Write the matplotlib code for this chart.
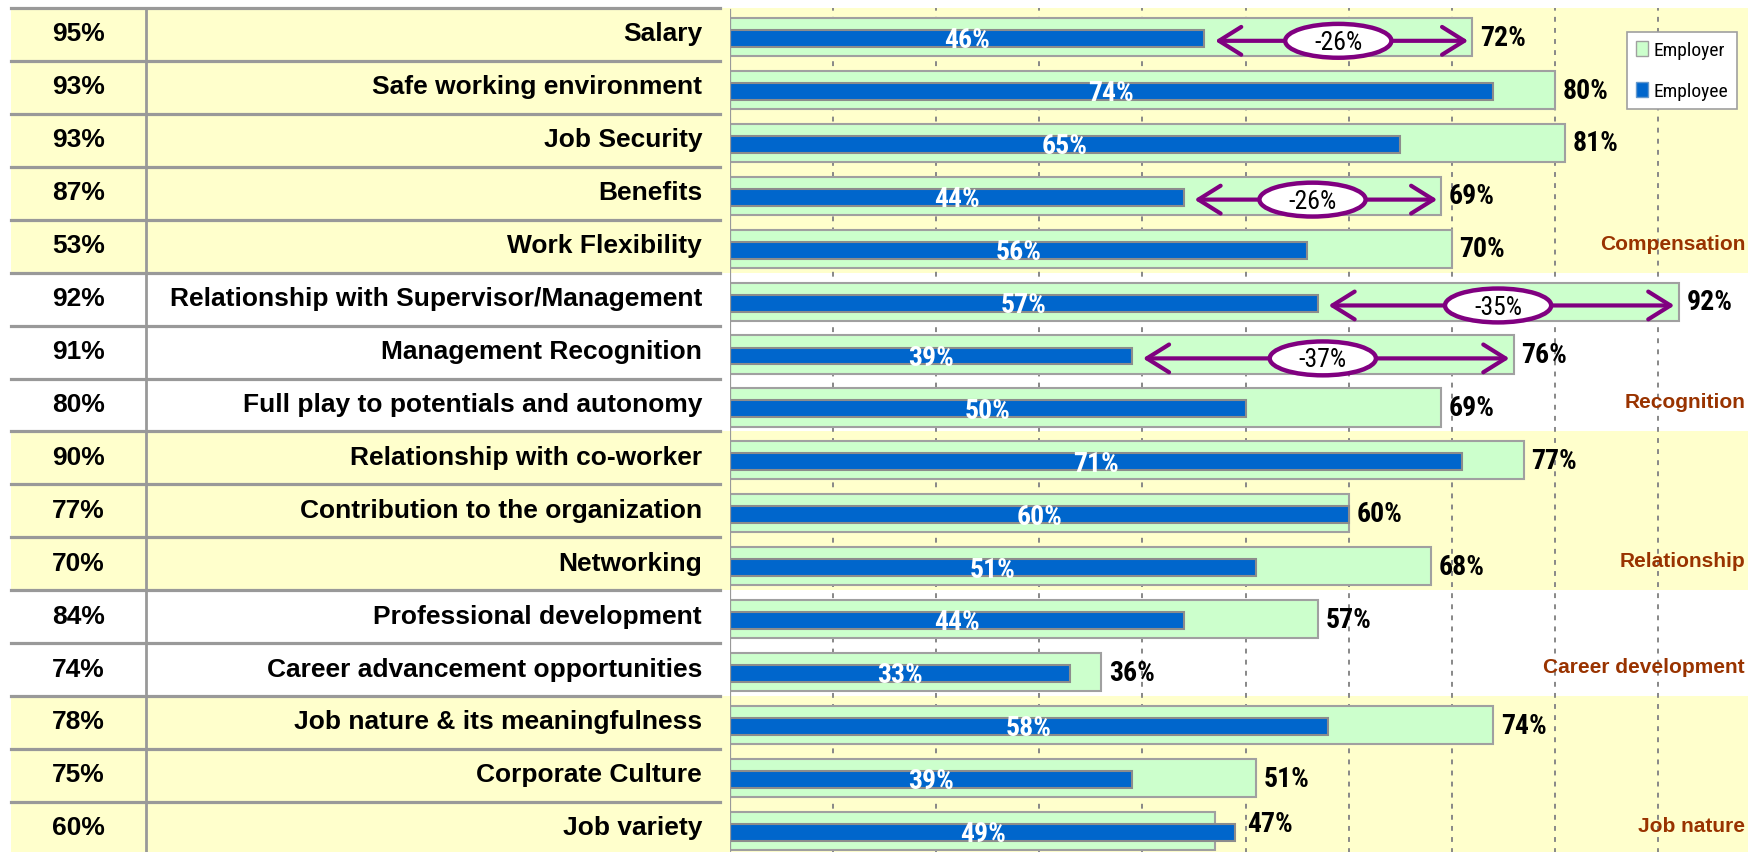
import matplotlib
matplotlib.use("Agg")
import matplotlib.pyplot as plt
import matplotlib.font_manager as fm
from matplotlib.patches import Ellipse, Patch

# --- data ---
factors = ["Salary", "Safe working environment", "Job Security", "Benefits",
           "Work Flexibility", "Relationship with Supervisor/Management",
           "Management Recognition", "Full play to potentials and autonomy",
           "Relationship with co-worker", "Contribution to the organization",
           "Networking", "Professional development",
           "Career advancement opportunities", "Job nature & its meaningfulness",
           "Corporate Culture", "Job variety"]
importance = [95, 93, 93, 87, 53, 92, 91, 80, 90, 77, 70, 84, 74, 78, 75, 60]
employer = [72, 80, 81, 69, 70, 92, 76, 69, 77, 60, 68, 57, 36, 74, 51, 47]
employee = [46, 74, 65, 44, 56, 57, 39, 50, 71, 60, 51, 44, 33, 58, 39, 49]
group_names = ["Compensation", "Recognition", "Relationship",
               "Career development", "Job nature"]
group_ends = [5, 8, 11, 13, 16]
gap_rows = [0, 3, 5, 6]
gap_labels = ["-26%", "-26%", "-35%", "-37%"]

# narrow face for the chart labels (Arial Narrow look), first one that has a bold
bold_names = {f.name for f in fm.fontManager.ttflist if f.weight in (700, "bold")}
narrow = "Liberation Sans"
for cand in ["Liberation Sans Narrow", "Arial Narrow", "Roboto Condensed",
             "PT Sans Narrow", "Archivo Narrow", "Fira Sans Condensed",
             "IBM Plex Sans Condensed"]:
    if cand in bold_names:
        narrow = cand
        break
is_narrow = narrow != "Liberation Sans"
lab_size = 20 if is_narrow else 16.5
leg_size = 14 if is_narrow else 11.5
gap_size = 18.5 if is_narrow else 15

YELLOW = "#FFFFCC"
GRID = "#999999"
PURPLE = "#800080"

W, H = 1748, 853
fig = plt.figure(figsize=(W / 100, H / 100), dpi=100)
TOP, PITCH = 9, 52.93
BOTTOM = TOP + len(factors) * PITCH


def box(x0, x1):
    return [x0 / W, 1 - BOTTOM / H, (x1 - x0) / W, (BOTTOM - TOP) / H]


n = len(factors)

# background bands shared by the table and the chart
bg = fig.add_axes(box(11, W))
bg.set_xlim(0, 1)
bg.set_ylim(n, 0)
bg.axis("off")
start = 0
for g, end in enumerate(group_ends):
    if g % 2 == 0:
        bg.axhspan(start, end, color=YELLOW, lw=0)
    start = end

# --- table on the left ---
tab = fig.add_axes(box(11, 720))
tab.set_xlim(0, 709)
tab.set_ylim(n, 0)
tab.axis("off")
tab.patch.set_alpha(0)
for i in range(n + 1):
    tab.axhline(i, color=GRID, lw=2.3, clip_on=False)
tab.axvline(135, color=GRID, lw=2.0, clip_on=False)
for i, (name, imp) in enumerate(zip(factors, importance)):
    tab.text(67.5, i + 0.48, f"{imp}%", ha="center", va="center",
             fontsize=19, fontweight="bold", family="Liberation Sans")
    tab.text(691, i + 0.48, name, ha="right", va="center",
             fontsize=19, fontweight="bold", family="Liberation Sans")

# --- bar chart on the right ---
ch = fig.add_axes(box(730, W))
ch.set_xlim(0, (W - 730) / 10.31)
ch.set_ylim(n, 0)
ch.axis("off")
ch.patch.set_alpha(0)
for g in range(10, 100, 10):
    ch.axvline(g, color="#888888", lw=1.4, ls=(0, (2.5, 3.2)), zorder=1)
ch.axvline(0, ymax=1 - 2 / (BOTTOM - TOP), color=GRID, lw=1.6, zorder=4)

rows = range(n)
ch.barh([i + 0.547 for i in rows], employer, height=0.72, color="#CCFFCC",
        edgecolor="#A0A0A0", lw=1.5, zorder=2, label="Employer")
ch.barh([i + 0.575 for i in rows], employee, height=0.32, color="#0066CC",
        edgecolor="#8C8C8C", lw=1.5, zorder=3, label="Employee")

for i in rows:
    ch.text(employee[i] / 2, i + 0.6, f"{employee[i]}%", ha="center",
            va="center", color="white", fontsize=lab_size,
            fontweight="bold", family=narrow, zorder=6)
    if employee[i] > employer[i]:
        ch.text(employee[i] + 1.15, i + 0.4, f"{employer[i]}%", ha="left",
                va="center", fontsize=lab_size, fontweight="bold",
                family=narrow, zorder=6)
    else:
        ch.text(employer[i] + 0.75, i + 0.55, f"{employer[i]}%", ha="left",
                va="center", fontsize=lab_size, fontweight="bold",
                family=narrow, zorder=6)

# gap arrows with the ellipse in the middle
for r, lab in zip(gap_rows, gap_labels):
    y = r + 0.62
    ch.annotate("", xy=(employer[r] - 0.4, y), xytext=(employee[r] + 1.05, y),
                arrowprops=dict(arrowstyle="<->,head_length=0.8,head_width=0.5",
                                color=PURPLE, lw=3, mutation_scale=20,
                                shrinkA=0, shrinkB=0),
                zorder=7)
    mid = (employer[r] + employee[r]) / 2
    ch.add_patch(Ellipse((mid, y), 10.3, 0.64, facecolor="white",
                         edgecolor=PURPLE, lw=3.2, zorder=8))
    ch.text(mid, y + 0.02, lab, ha="center", va="center", fontsize=gap_size,
            family=narrow, zorder=9)

# group names on the right edge
for name, end in zip(group_names, group_ends):
    ch.text(98.45, end - 0.56, name, ha="right", va="center", fontsize=15,
            fontweight="bold", color="#993300", family="Liberation Sans",
            zorder=6)

handles = [Patch(facecolor="#CCFFCC", edgecolor="#A0A0A0"),
           Patch(facecolor="#0066CC", edgecolor="#6699CC")]
leg = fig.legend(handles, ["Employer", "Employee"], loc="upper right",
                 bbox_to_anchor=(1737 / W, 1 - 33 / H), frameon=True,
                 fancybox=False, framealpha=1, edgecolor="#A0A0A0",
                 prop={"family": narrow, "size": leg_size},
                 handlelength=0.6, handleheight=0.8, handletextpad=0.3,
                 labelspacing=1.2, borderpad=0.45, borderaxespad=0)
leg.get_frame().set_linewidth(1.2)

fig.savefig("out.png", dpi=100)
